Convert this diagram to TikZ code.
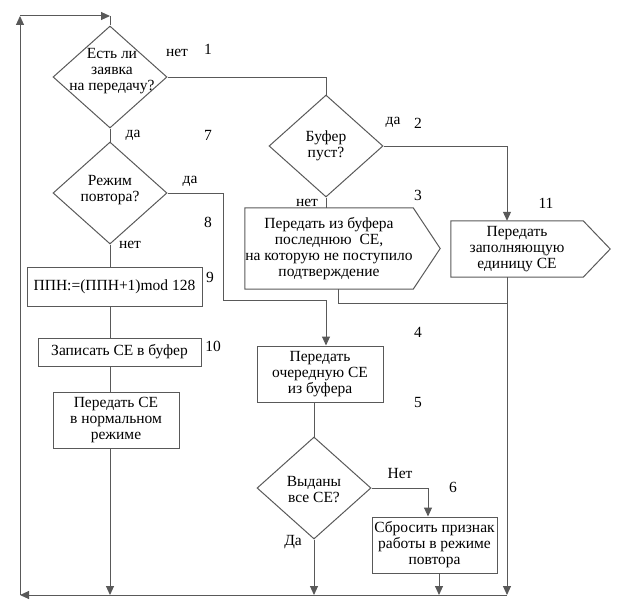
\documentclass[tikz,border=0pt]{standalone}
\usepackage{fontspec}
\setmainfont{Liberation Serif}
\usetikzlibrary{shapes.geometric,arrows.meta}
\newcommand{\dfont}{\fontsize{15.5}{16}\selectfont}
\begin{document}
\begin{tikzpicture}[x=1pt,y=-1pt,
  ln/.style={draw=black!65, line width=1pt},
  arr/.style={ln, -{Triangle[length=9pt,width=8pt]}},
  dia/.style={diamond, draw=black!65, line width=1pt, minimum width=114pt, minimum height=102pt, inner sep=0pt},
  txt/.style={align=center, inner sep=0pt, font=\dfont},
  box/.style={rectangle, draw=black!65, line width=1pt, inner sep=0pt, align=center, font=\dfont},
  lbl/.style={inner sep=0pt, font=\dfont}]
\useasboundingbox (0,0) rectangle (620,610);
% corner coordinates of the loop
\coordinate (bl) at (20,595);
\coordinate (tl) at (20,16);
\coordinate (tm) at (110,16);
\coordinate (br) at (507,595);
\coordinate (k1) at (223,300);
\coordinate (j3) at (507,303);
% diamonds
\node[dia] (d1) at (110,77) {};
\node[txt] (d1t) at (112,71) {Есть ли\\заявка\\на передачу?};
\node[dia] (d2) at (110,193) {};
\node[txt] (d2t) at (110,190) {Режим\\повтора?};
\node[dia] (d3) at (326,146) {};
\node[txt] (d3t) at (326,146) {Буфер\\пуст?};
\node[dia] (d4) at (314,488) {};
\node[txt] (d4t) at (314,490) {Выданы\\все СЕ?};
% boxes
\node[box, minimum width=175pt, minimum height=39pt] (b9) at (114.5,286.5) {ППН:=(ППН+1)mod 128};
\node[box, minimum width=163pt, minimum height=28pt] (b10) at (119.5,352) {Записать СЕ в буфер};
\node[box, minimum width=126pt, minimum height=56pt] (b12) at (116,420) {Передать СЕ\\в нормальном\\режиме};
\node[box, minimum width=126pt, minimum height=56pt] (b4) at (320,374) {Передать\\очередную СЕ\\из буфера};
\node[box, minimum width=125pt, minimum height=56pt] (b6) at (434.5,545) {Сбросить признак\\работы в режиме\\повтора};
\node[txt, minimum width=168pt, minimum height=81pt] (b3) at (329,248.5) {Передать из буфера\\последнюю\ \ СЕ,\\на которую не поступило\\подтверждение};
\draw[ln] (b3.north west) -- (b3.north east) -- ([xshift=27pt]b3.east) -- (b3.south east) -- (b3.south west) -- cycle;
\node[txt, minimum width=132pt, minimum height=56pt] (b11) at (517,249) {Передать\\заполняющую\\единицу СЕ};
\draw[ln] (b11.north west) -- (b11.north east) -- ([xshift=27pt]b11.east) -- (b11.south east) -- (b11.south west) -- cycle;
% connectors
\draw[ln] (d1.south) -- (d2.north);
\draw[ln] (d2.south) -- (d2.south |- b9.north);
\draw[ln] (d1 |- b9.south) -- (d1 |- b10.north);
\draw[ln] (d1 |- b10.south) -- (d1 |- b12.north);
\draw[arr] (d1 |- b12.south) -- (d1 |- bl);
\draw[ln] (d1.east) -| (d3.north);
\draw[arr] (d3.east) -| (br |- b11.north);
\draw[arr] (br |- b11.south) -- (br);
\draw[ln] (d3.south) -- (d3.south |- b3.north);
\draw[ln] ([xshift=9pt]b3.south) |- (j3);
\draw[arr] (d2.east) -| (k1) -| (d3.south |- b4.north);
\draw[ln] (d4 |- b4.south) -- (d4.north);
\draw[arr] (d4.east) -| ([xshift=-6.5pt]b6.north);
\draw[arr] ([xshift=4.5pt]b6.south) -- ([xshift=4.5pt]b6.south |- bl);
\draw[arr] (d4.south) -- (d4 |- bl);
\draw[arr] (br) -- (bl);
\draw[arr] (bl) -- (tl);
\draw[arr] (tl) -- (tm);
\draw[ln] (tm) -- (d1.north);
% labels
\node[lbl] (l1a) at (177,53) {нет};
\node[lbl] (n1) at (208,49) {1};
\node[lbl] (l7a) at (133,135) {да};
\node[lbl] (n7) at (208,135) {7};
\node[lbl] (l8a) at (190,181) {да};
\node[lbl] (n8) at (208,222) {8};
\node[lbl] (l9a) at (130,245) {нет};
\node[lbl] (n9) at (210,277) {9};
\node[lbl] (n10) at (213,346) {10};
\node[lbl] (l2a) at (393,122) {да};
\node[lbl] (n2) at (418,123) {2};
\node[lbl] (n3) at (418,195) {3};
\node[lbl] (l3a) at (307,203) {нет};
\node[lbl] (n11) at (546,203) {11};
\node[lbl] (n4) at (418,332) {4};
\node[lbl] (n5) at (418,402) {5};
\node[lbl] (l6a) at (400,473) {Нет};
\node[lbl] (n6) at (453,487) {6};
\node[lbl] (l5a) at (293,542) {Да};
\end{tikzpicture}
\end{document}
